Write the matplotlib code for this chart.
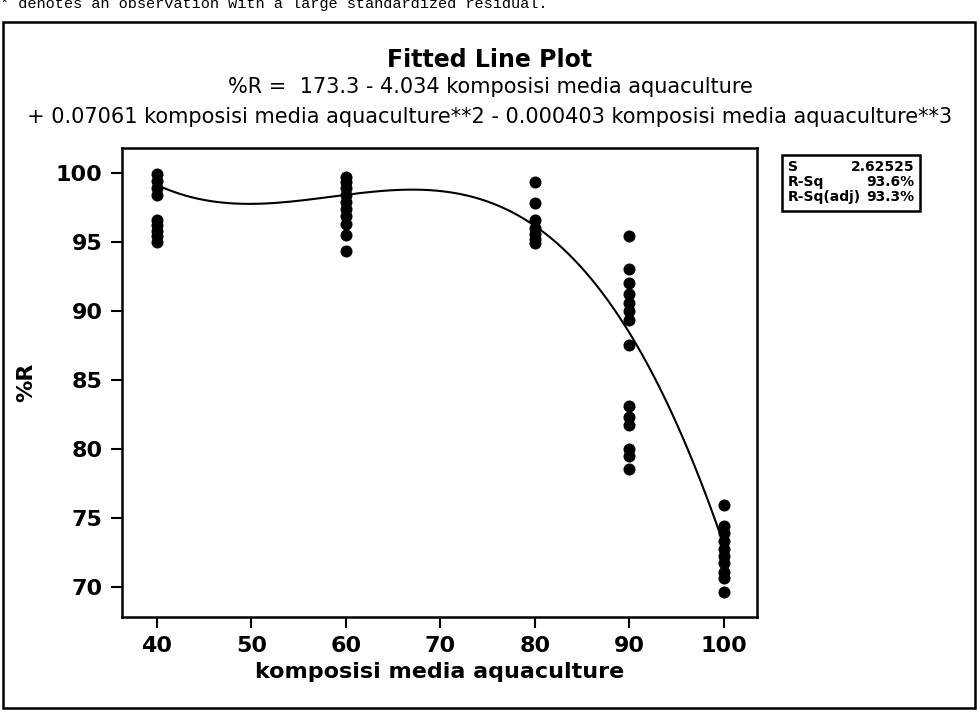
import matplotlib
matplotlib.use("Agg")
import matplotlib.pyplot as plt
from matplotlib.patches import Rectangle
import numpy as np

# Data
x40 = [95.0, 95.4, 95.8, 96.2, 96.6, 98.4, 98.9, 99.4, 99.9]
x60 = [94.3, 95.5, 96.3, 96.9, 97.4, 97.9, 98.4, 98.9, 99.3, 99.7]
x80 = [99.3, 97.8, 96.6, 96.0, 95.6, 95.2, 94.9]
x90 = [95.4, 93.0, 92.0, 91.2, 90.6, 90.0, 89.3, 87.5, 83.1, 82.3, 81.7, 80.0, 79.5, 78.5]
x100 = [75.9, 74.4, 73.9, 73.3, 72.7, 72.2, 71.7, 71.1, 70.6, 69.6]
groups = [40, 60, 80, 90, 100]
group_vals = [x40, x60, x80, x90, x100]

# Fitted cubic (coefficients from the chart title)
coef = [173.3, -4.034, 0.07061, -0.000403]

x_ticks = [40, 50, 60, 70, 80, 90, 100]
y_ticks = [70, 75, 80, 85, 90, 95, 100]

stats_labels = ["S", "R-Sq", "R-Sq(adj)"]
stats_values = ["2.62525", "93.6%", "93.3%"]

plt.rcParams['font.family'] = ["DejaVu Sans"]

fig = plt.figure(figsize=(9.8, 7.15), dpi=100)
ax = fig.add_axes([0.1245, 0.137, 0.648, 0.656])

for g, vals in zip(groups, group_vals):
    ax.scatter([g] * len(vals), vals, s=75, color="black", zorder=3, linewidths=0)

xs = np.linspace(40, 100, 300)
ys = coef[0] + coef[1] * xs + coef[2] * xs ** 2 + coef[3] * xs ** 3
ax.plot(xs, ys, color="black", lw=1.5, zorder=2)

ax.set_xlim(36.3, 103.5)
ax.set_ylim(67.8, 101.8)
ax.set_xticks(x_ticks)
ax.set_xticklabels([str(t) for t in x_ticks])
ax.set_yticks(y_ticks)
for sp in ax.spines.values():
    sp.set_linewidth(1.8)
ax.tick_params(direction="out", length=8, width=1.5, labelsize=16, pad=6)
for lab in ax.get_xticklabels() + ax.get_yticklabels():
    lab.set_fontweight("bold")

ax.set_xlabel("komposisi media aquaculture", fontsize=16, fontweight="bold", labelpad=4)
ax.set_ylabel("%R", fontsize=16, fontweight="bold", labelpad=14)

fig.text(0.5, 1 - 60 / 715, "Fitted Line Plot", ha="center", va="center", fontsize=17, fontweight="bold")
fig.text(0.5, 1 - 87 / 715, "%R =  173.3 - 4.034 komposisi media aquaculture", ha="center", va="center", fontsize=15)
fig.text(0.5, 1 - 117 / 715, "+ 0.07061 komposisi media aquaculture**2 - 0.000403 komposisi media aquaculture**3",
         ha="center", va="center", fontsize=15)

# Stats box
bx0, by0, bw, bh = 782 / 980, 1 - 211 / 715, (920 - 782) / 980, (211 - 155) / 715
fig.patches.append(Rectangle((bx0, by0), bw, bh, transform=fig.transFigure,
                             fill=False, edgecolor="black", lw=1.8))
rows_y = [167, 182, 197]
for lab, val, ry in zip(stats_labels, stats_values, rows_y):
    fig.text(788 / 980, 1 - ry / 715, lab, ha="left", va="center", fontsize=10, fontweight="bold")
    fig.text(914 / 980, 1 - ry / 715, val, ha="right", va="center", fontsize=10, fontweight="bold")

# Outer frame
fig.patches.append(Rectangle((3 / 980, 1 - 708 / 715), 972 / 980, (708 - 22) / 715,
                             transform=fig.transFigure, fill=False, edgecolor="black", lw=1.8))

# Clipped header line of the scanned page
fig.text(0.0, 1 - 4 / 715, "* denotes an observation with a large standardized residual.",
         ha="left", va="center", fontsize=11, family=["Liberation Mono", "DejaVu Sans Mono"])

fig.savefig("out.png", dpi=100, facecolor="white")
